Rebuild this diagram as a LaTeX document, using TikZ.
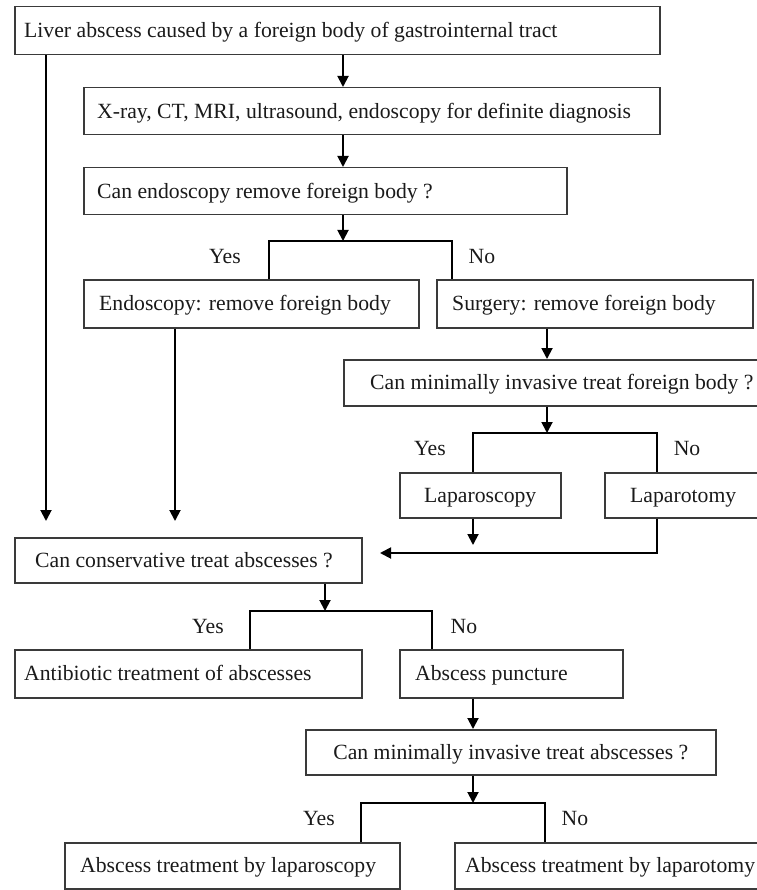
\documentclass[tikz,border=0pt]{standalone}
\usepackage{fontspec}
\setmainfont{Liberation Serif}
\usetikzlibrary{arrows.meta}
\definecolor{boxc}{HTML}{3A3A3A}
\definecolor{txtc}{HTML}{1A1A1A}
\tikzset{
  bx/.style={draw=boxc, line width=1.5pt, inner sep=0pt, anchor=north west},
  txt/.style={text=txtc, inner sep=0pt, font=\fontsize{21.7}{24}\selectfont},
  lbl/.style={text=txtc, inner sep=0pt, anchor=base, font=\fontsize{21.7}{24}\selectfont},
  conn/.style={draw=black, line width=1.9pt},
  arr/.style={conn, -{Triangle[length=11pt,width=11pt]}},
}
\begin{document}
\begin{tikzpicture}[x=1pt,y=1pt]
\useasboundingbox (0,0) rectangle (756,-890);
% boxes
\node[bx, minimum width=645, minimum height=48] (n1) at (14,-6) {};
\node[bx, minimum width=576, minimum height=47] (n2) at (83,-87) {};
\node[bx, minimum width=483, minimum height=47] (n3) at (83,-167) {};
\node[bx, minimum width=335, minimum height=48] (n4) at (83,-279) {};
\node[bx, minimum width=316, minimum height=48] (n5) at (436,-279) {};
\node[bx, minimum width=420, minimum height=46] (n6) at (343,-359) {};
\node[bx, minimum width=161, minimum height=45] (n7) at (399,-472) {};
\node[bx, minimum width=160, minimum height=45] (n8) at (604,-472) {};
\node[bx, minimum width=347, minimum height=45] (n9) at (14,-537) {};
\node[bx, minimum width=347, minimum height=48] (n10) at (14,-649) {};
\node[bx, minimum width=223, minimum height=48] (n11) at (399,-649) {};
\node[bx, minimum width=410, minimum height=45] (n12) at (305,-729) {};
\node[bx, minimum width=335, minimum height=46] (n13) at (64,-842) {};
\node[bx, minimum width=320, minimum height=46] (n14) at (454,-842) {};
% texts
\node[txt, anchor=base west] (t1) at ([xshift=10pt,yshift=-7pt]n1.west) {Liver abscess caused by a foreign body of gastrointernal tract};
\node[txt, anchor=base west] (t2) at ([xshift=14pt,yshift=-7pt]n2.west) {X-ray, CT, MRI, ultrasound, endoscopy for definite diagnosis};
\node[txt, anchor=base west] (t3) at ([xshift=14pt,yshift=-7pt]n3.west) {Can endoscopy remove foreign body ?};
\node[txt, anchor=base west] (t4) at ([xshift=16pt,yshift=-7pt]n4.west) {Endoscopy: remove foreign body};
\node[txt, anchor=base west] (t5) at ([xshift=16pt,yshift=-7pt]n5.west) {Surgery: remove foreign body};
\node[txt, anchor=base west] (t6) at ([xshift=27pt,yshift=-7pt]n6.west) {Can minimally invasive treat foreign body ?};
\node[txt, anchor=base] (t7) at ([yshift=-7pt]n7.center) {Laparoscopy};
\node[txt, anchor=base west] (t8) at ([xshift=26pt,yshift=-7pt]n8.west) {Laparotomy};
\node[txt, anchor=base west] (t9) at ([xshift=21pt,yshift=-7pt]n9.west) {Can conservative treat abscesses ?};
\node[txt, anchor=base west] (t10) at ([xshift=10pt,yshift=-7pt]n10.west) {Antibiotic treatment of abscesses};
\node[txt, anchor=base west] (t11) at ([xshift=16pt,yshift=-7pt]n11.west) {Abscess puncture};
\node[txt, anchor=base] (t12) at ([yshift=-7pt]n12.center) {Can minimally invasive treat abscesses ?};
\node[txt, anchor=base west] (t13) at ([xshift=16pt,yshift=-7pt]n13.west) {Abscess treatment by laparoscopy};
\node[txt, anchor=base west] (t14) at ([xshift=11pt,yshift=-7pt]n14.west) {Abscess treatment by laparotomy};
% coordinates
\coordinate (xa) at (343,0);
\coordinate (xl) at (46,0);
\coordinate (xe) at (175,0);
\coordinate (xs) at (547,0);
\coordinate (xp) at (473,0);
\coordinate (xc) at (325,0);
\coordinate (s1) at (343,-241);
\coordinate (s1l) at (269,-241);
\coordinate (s1r) at (452,-241);
\coordinate (s2) at (547,-433);
\coordinate (s2l) at (473,-433);
\coordinate (s2r) at (657,-433);
\coordinate (s3) at (325,-611);
\coordinate (s3l) at (250,-611);
\coordinate (s3r) at (432,-611);
\coordinate (s4) at (473,-803);
\coordinate (s4l) at (361,-803);
\coordinate (s4r) at (545,-803);
\coordinate (e1) at (46,-521);
\coordinate (e2) at (175,-521);
\coordinate (e3) at (473,-545);
\coordinate (j1) at (657,-553);
\coordinate (e4) at (380,-553);
% connectors
\draw[arr] (n1.south -| xa) -- (n2.north -| xa);
\draw[arr] (n2.south -| xa) -- (n3.north -| xa);
\draw[arr] (n3.south -| xa) -- (s1);
\draw[conn] (n4.north -| s1l) -- (s1l) -- (s1r) -- (n5.north -| s1r);
\draw[arr] (n5.south -| xs) -- (n6.north -| xs);
\draw[arr] (n6.south -| xs) -- (s2);
\draw[conn] (n7.north -| s2l) -- (s2l) -- (s2r) -- (n8.north -| s2r);
\draw[arr] (n1.south -| xl) -- (e1);
\draw[arr] (n4.south -| xe) -- (e2);
\draw[arr] (n7.south -| xp) -- (e3);
\draw[arr] (n8.south -| j1) -- (j1) -- (e4);
\draw[arr] (n9.south -| xc) -- (s3);
\draw[conn] (n10.north -| s3l) -- (s3l) -- (s3r) -- (n11.north -| s3r);
\draw[arr] (n11.south -| xp) -- (n12.north -| xp);
\draw[arr] (n12.south -| xp) -- (s4);
\draw[conn] (n13.north -| s4l) -- (s4l) -- (s4r) -- (n14.north -| s4r);
% labels
\node[lbl] (y1) at (225,-263) {Yes};
\node[lbl] (o1) at (482,-263) {No};
\node[lbl] (y2) at (430,-455) {Yes};
\node[lbl] (o2) at (687,-455) {No};
\node[lbl] (y3) at (208,-633) {Yes};
\node[lbl] (o3) at (464,-633) {No};
\node[lbl] (y4) at (319,-825) {Yes};
\node[lbl] (o4) at (575,-825) {No};
\end{tikzpicture}
\end{document}
